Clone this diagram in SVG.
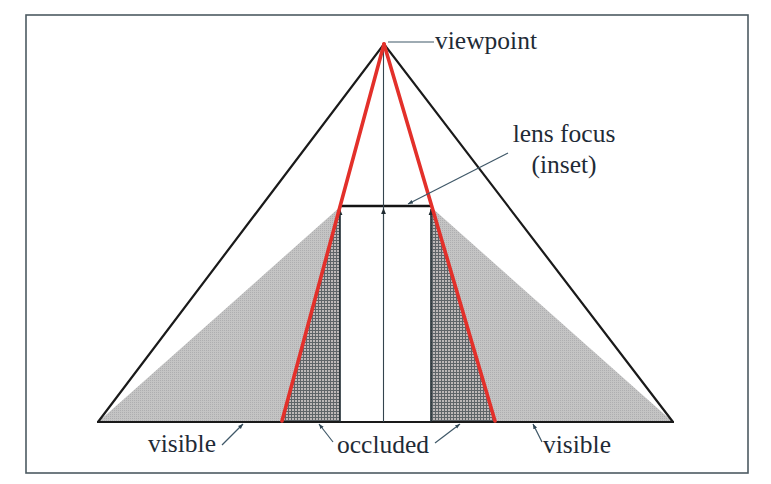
<svg xmlns="http://www.w3.org/2000/svg" width="771" height="484" viewBox="0 0 771 484">
  <style>
    .lbl { font-size: 25.5px; fill: #1f2b36; }
    .leader { stroke: #3f5868; stroke-width: 1.2; fill: none; }
    .edge { stroke: #1a1a1a; stroke-width: 2.2; fill: none; stroke-linejoin: miter; }
    .red { stroke: #e3302a; stroke-width: 3.6; fill: none; stroke-linecap: round; }
    .vert { stroke: #1e2a30; stroke-width: 1.6; fill: none; }
  </style>
  <defs>
    <pattern id="stipple" width="2" height="2" patternUnits="userSpaceOnUse">
      <rect width="2" height="2" fill="#c4c4c4"/>
      <rect width="1" height="1" fill="#aeaeb0"/>
    </pattern>
    <pattern id="hatch" width="3" height="3" patternUnits="userSpaceOnUse">
      <rect width="3" height="3" fill="#bdb8b8"/>
      <rect width="3" height="1" fill="#5e6468"/>
      <rect width="1" height="3" fill="#5e6468"/>
    </pattern>
    <marker id="arr" viewBox="0 0 10 10" refX="10" refY="5" markerWidth="6" markerHeight="6" orient="auto-start-reverse" markerUnits="userSpaceOnUse">
      <path d="M0,1 L10,5 L0,9 z" fill="#1e2a30"/>
    </marker>
    <marker id="arrL" viewBox="0 0 10 10" refX="10" refY="5" markerWidth="5" markerHeight="5" orient="auto" markerUnits="userSpaceOnUse">
      <path d="M0,1 L10,5 L0,9 z" fill="#2f4553"/>
    </marker>
  </defs>

  <rect id="frame" x="26" y="15" width="722" height="458" fill="#ffffff" stroke="#4d5a62" stroke-width="1.6"/>

  <g id="regions">
    <polygon id="visible-left" points="98,422 340,207 282,422" fill="url(#stipple)"/>
    <polygon id="occluded-left" points="340,207 282,422 340,422" fill="url(#hatch)"/>
    <polygon id="visible-right" points="673,422 431,207 495,422" fill="url(#stipple)"/>
    <polygon id="occluded-right" points="431,207 495,422 431,422" fill="url(#hatch)"/>
  </g>

  <g id="view-triangle">
    <polyline class="edge" points="98,422 384,44 673,422"/>
    <line class="edge" x1="97" y1="422" x2="674" y2="422"/>
  </g>

  <g id="lens">
    <line x1="340" y1="206" x2="431" y2="206" stroke="#141414" stroke-width="2.6"/>
    <line class="vert" x1="340" y1="422" x2="340" y2="209" marker-end="url(#arr)"/>
    <line class="vert" x1="431" y1="422" x2="431" y2="209" marker-end="url(#arr)"/>
    <line x1="383.5" y1="44" x2="383.5" y2="422" stroke="#34444e" stroke-width="1.1"/>
    <line x1="383.5" y1="230" x2="383.5" y2="208" stroke="#34444e" stroke-width="1.1" marker-end="url(#arr)"/>
  </g>

  <g id="focus-lines">
    <line class="red" x1="384" y1="44" x2="282" y2="421"/>
    <line class="red" x1="384" y1="44" x2="495" y2="421"/>
  </g>

  <g id="connectors">
    <line class="leader" x1="388" y1="42" x2="434" y2="42"/>
    <line class="leader" x1="508" y1="153" x2="408" y2="204" marker-end="url(#arrL)"/>
    <line class="leader" x1="222" y1="445" x2="243" y2="424" marker-end="url(#arrL)"/>
    <line class="leader" x1="333" y1="442" x2="319" y2="424" marker-end="url(#arrL)"/>
    <line class="leader" x1="435" y1="443" x2="460" y2="424" marker-end="url(#arrL)"/>
    <line class="leader" x1="542" y1="442" x2="533" y2="424" marker-end="url(#arrL)"/>
  </g>

  <g id="labels" font-family="'Liberation Serif', 'DejaVu Serif', serif">
    <text id="viewpoint" class="lbl" x="435" y="49">viewpoint</text>
    <text id="lens-focus" class="lbl" x="564" y="142" text-anchor="middle">lens focus</text>
    <text id="inset" class="lbl" x="564" y="173" text-anchor="middle">(inset)</text>
    <text id="visible-left-label" class="lbl" x="148" y="452">visible</text>
    <text id="occluded-label" class="lbl" x="337" y="453">occluded</text>
    <text id="visible-right-label" class="lbl" x="543" y="453">visible</text>
  </g>
</svg>
